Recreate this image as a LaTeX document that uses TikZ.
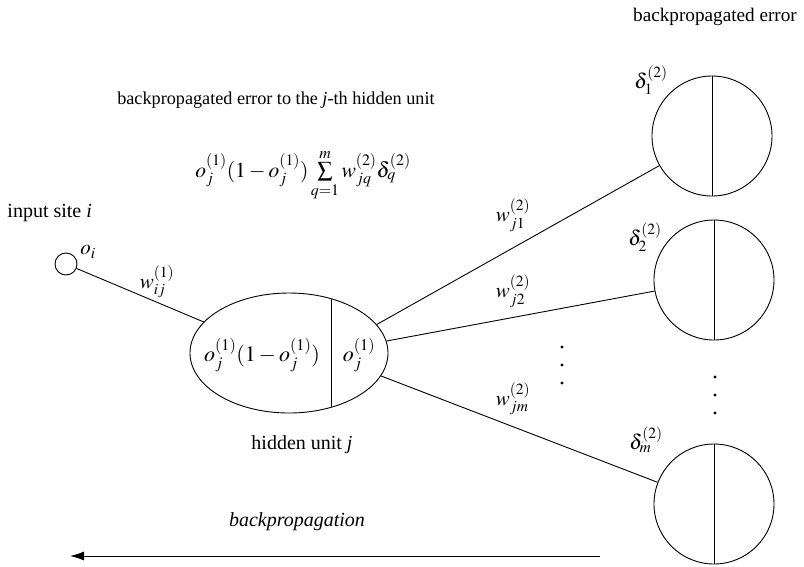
\documentclass[tikz,border=0pt]{standalone}
\usepackage{mathptmx}
\usepackage{fontspec}
\setmainfont{Liberation Serif}
\usetikzlibrary{shapes.geometric,arrows.meta}
\newcommand\myfs[1]{\fontsize{#1}{#1}\selectfont}
\begin{document}
\begin{tikzpicture}[x=1pt,y=-1pt,line width=0.9pt,
  unit/.style={circle,draw,minimum size=120pt,inner sep=0pt},
  lbl/.style={inner sep=0pt},
  dotmark/.style={fill=black}]
\useasboundingbox (0,0) rectangle (804,566);
% titles
\node[lbl,font=\myfs{18.2}] (title) at (276,100) {backpropagated error to the \textit{j}-th hidden unit};
\node[lbl,font=\myfs{19.2}] (berr) at (715,17) {backpropagated error};
\node[lbl,font=\myfs{21.5},anchor=base] (form) at (303,177) {$o_j^{(1)}(1-o_j^{(1)})\sum\limits_{q=1}^{m} w_{jq}^{(2)}\delta_q^{(2)}$};
% input
\node[lbl,font=\myfs{20},anchor=west] (inlbl) at (7,213) {input site \textit{i}};
\node[circle,draw,minimum size=22pt,inner sep=0pt] (inp) at (66,264) {};
\node[lbl,font=\myfs{21}] (oi) at (88,252) {$o_i$};
% hidden
\node[ellipse,draw,minimum width=198pt,minimum height=120pt,inner sep=0pt] (hid) at (289,353) {};
\coordinate (dtop) at (331,298.7);
\coordinate (dbot) at (331,407.3);
\draw (dtop) -- (dbot);
\node[lbl,font=\myfs{22}] (hl) at (262,355) {$o_j^{(1)}(1-o_j^{(1)})$};
\node[lbl,font=\myfs{22}] (hr) at (359,355) {$o_j^{(1)}$};
\node[lbl,font=\myfs{20}] (hname) at (302,445) {hidden unit \textit{j}};
% output units
\node[unit] (c1) at (712,136) {};
\node[unit] (c2) at (714,280) {};
\node[unit] (c3) at (714,504) {};
\draw (c1.north) -- (c1.south);
\draw (c2.north) -- (c2.south);
\draw (c3.north) -- (c3.south);
\node[lbl,font=\myfs{21}] (d1) at (651,80) {$\delta_1^{(2)}$};
\node[lbl,font=\myfs{21}] (d2) at (645,237) {$\delta_2^{(2)}$};
\node[lbl,font=\myfs{21}] (dm) at (646,440) {$\delta_m^{(2)}$};
% connectors
\draw (inp) -- (hid.160.2);
\draw (hid.18.8) -- (c1);
\draw (hid.7.6) -- (c2);
\draw (hid.-14.3) -- (c3);
\node[lbl,font=\myfs{21}] (wij) at (157,282) {$w_{ij}^{(1)}$};
\node[lbl,font=\myfs{21}] (wj1) at (513,215) {$w_{j1}^{(2)}$};
\node[lbl,font=\myfs{21}] (wj2) at (513,291) {$w_{j2}^{(2)}$};
\node[lbl,font=\myfs{21}] (wjm) at (513,399) {$w_{jm}^{(2)}$};
% dots
\fill[dotmark] (562,347) circle (1.6pt);
\fill[dotmark] (562,365) circle (1.6pt);
\fill[dotmark] (562,383) circle (1.6pt);
\fill[dotmark] (715,377) circle (1.6pt);
\fill[dotmark] (715,395) circle (1.6pt);
\fill[dotmark] (715,413) circle (1.6pt);
% backpropagation arrow
\node[lbl,font=\myfs{20}\itshape] (bp) at (297,522) {backpropagation};
\coordinate (as) at (600,556);
\coordinate (ae) at (70,556);
\draw[-{Latex[length=14pt,width=9pt]}] (as) -- (ae);
\end{tikzpicture}
\end{document}
